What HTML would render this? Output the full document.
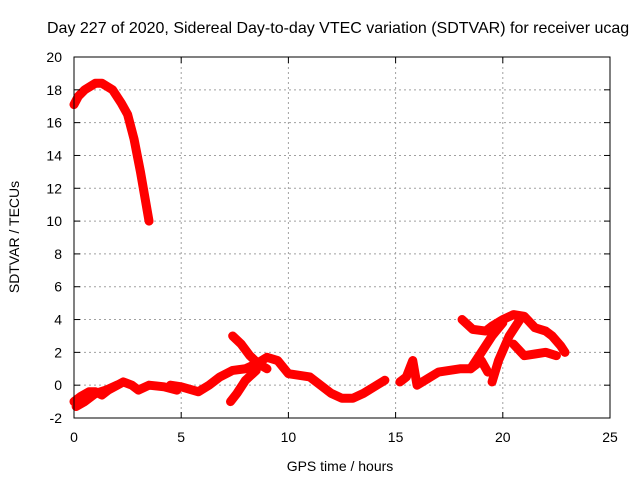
<!DOCTYPE html>
<html><head><meta charset="utf-8"><style>
body{margin:0;background:#fff;}
svg{display:block;font-family:"Liberation Sans",sans-serif;}
</style></head><body>
<svg id="chart" width="640" height="480">
<text x="47" y="33" font-size="16" text-anchor="start">Day 227 of 2020, Sidereal Day-to-day VTEC variation (SDTVAR) for receiver ucag</text>
<text x="340" y="471" font-size="14" text-anchor="middle">GPS time / hours</text>
<text transform="translate(19,237) rotate(-90)" font-size="14" text-anchor="middle">SDTVAR / TECUs</text>
<g id="grid"></g><g id="series"></g><g id="axes"></g>
</svg>
<script>
const xTicks=[0,5,10,15,20,25];
const yTicks=[-2,0,2,4,6,8,10,12,14,16,18,20];
const segTimes=[
[0,0.2,0.5,1.0,1.3,1.8,2.2,2.5,2.8,3.1,3.3,3.5],
[0,0.3,0.7,1.0,1.3,1.6,2.3,2.7,3.0,3.5,4.2,4.8],
[0.1,0.5,1.0,1.5,2.0],
[4.5,5,5.8,6.3,6.8,7.4,8,8.5,9,9.5,10,10.5,11,11.5,12,12.5,13,13.5,14,14.5],
[7.4,7.8,8.2,8.6,9.0],
[7.3,7.6,8.0,8.5],
[15.2,15.5,15.8,16,16.5,17,17.5,18,18.5,19,19.3],
[18.1,18.6,19.2,19.5,20,20.5,21,21.5,22,22.3,22.7,22.9],
[18.5,19,19.5,20],
[19.5,19.8,20.3,20.8],
[20.5,21,21.5,22,22.5]
];
const segValues=[
[17.1,17.6,18.0,18.4,18.4,18.0,17.2,16.5,15.0,13.0,11.5,10.0],
[-1.0,-0.7,-0.4,-0.4,-0.6,-0.3,0.2,0.0,-0.3,0.0,-0.1,-0.3],
[-1.3,-1.0,-0.5,-0.3,0.0],
[0,-0.1,-0.4,0.0,0.5,0.9,1.0,1.3,1.7,1.5,0.7,0.6,0.5,0,-0.5,-0.8,-0.8,-0.5,-0.1,0.3],
[3.0,2.5,1.8,1.3,1.0],
[-1.0,-0.5,0.3,0.9],
[0.2,0.5,1.5,0,0.4,0.8,0.9,1.0,1.0,1.5,0.8],
[4.0,3.4,3.3,3.6,4.0,4.3,4.2,3.5,3.3,3.0,2.4,2.0],
[1.0,2.0,3.0,3.8],
[0.2,1.5,3.0,4.0],
[2.5,1.8,1.9,2.0,1.8]
];
const L=74,R=610,T=57,B=418;
const xs=t=>L+t/25*(R-L);
const ys=v=>B-(v+2)/22*(B-T);
const NS="http://www.w3.org/2000/svg";
const g=document.getElementById('grid'),s=document.getElementById('series'),a=document.getElementById('axes');
function mk(p,tag,at){const e=document.createElementNS(NS,tag);for(const k in at)e.setAttribute(k,at[k]);p.appendChild(e);return e;}
xTicks.forEach(t=>{
 if(t>0&&t<25){const l=mk(g,'line',{x1:xs(t),x2:xs(t),y1:T,y2:B,stroke:'#a0a0a0','stroke-dasharray':'2,3'});
 
 }
 mk(a,'line',{x1:xs(t),x2:xs(t),y1:B,y2:B-6,stroke:'#000'});
 mk(a,'line',{x1:xs(t),x2:xs(t),y1:T,y2:T+6,stroke:'#000'});
 const tx=mk(a,'text',{x:xs(t),y:B+24,'font-size':14,'text-anchor':'middle'});tx.textContent=t;
 
 
});
yTicks.forEach(v=>{
 if(v>-2&&v<20){const l=mk(g,'line',{x1:L,x2:R,y1:ys(v),y2:ys(v),stroke:'#a0a0a0','stroke-dasharray':'2,3'});
 
 }
 mk(a,'line',{x1:L,x2:L+6,y1:ys(v),y2:ys(v),stroke:'#000'});
 mk(a,'line',{x1:R,x2:R-6,y1:ys(v),y2:ys(v),stroke:'#000'});
 const tx=mk(a,'text',{x:L-12,y:ys(v)+5,'font-size':14,'text-anchor':'end'});tx.textContent=v;
 
 
});
const fr=mk(a,'rect',{x:L,y:T,width:R-L,height:B-T,fill:'none',stroke:'#000'});


segTimes.forEach((ts,i)=>{
 const pts=ts.map((t,j)=>xs(t)+','+ys(segValues[i][j])).join(' ');
 const p=mk(s,'polyline',{points:pts,fill:'none',stroke:'#ff0000','stroke-width':9,'stroke-linejoin':'round','stroke-linecap':'round'});
 
 
});
</script>
</body></html>
